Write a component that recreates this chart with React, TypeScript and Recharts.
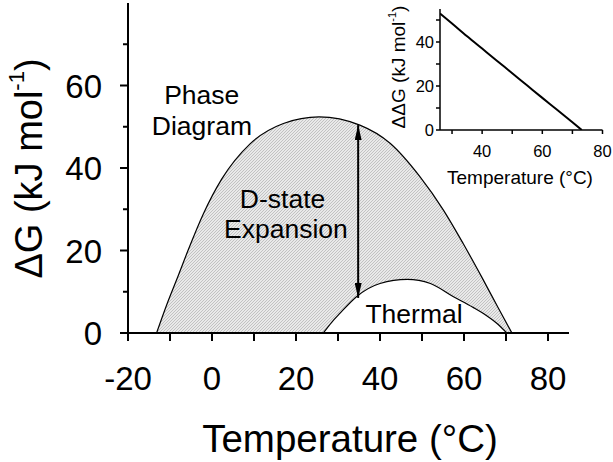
import React from 'react';
import { ComposedChart, Area, Line, XAxis, YAxis, ReferenceLine, ReferenceDot, Label } from 'recharts';

const FONT = '"Liberation Sans", Arial, Helvetica, sans-serif';

// Main chart: phase diagram (outer) curve
const phaseTemps = [-13.2, -10.8, -8, -5.6, -2.1, 2.3, 9, 17, 25.5, 35.2, 42.4, 49.5, 55.1, 59.8, 64.2, 68.2, 71.4];
const phaseDG = [0, 6.8, 14.0, 20.3, 28.8, 37.3, 45.8, 50.8, 52.4, 50.4, 46.0, 37.9, 29.8, 21.7, 13.6, 6.0, 0];

// Thermal curve
const thermalTemps = [26.5, 28.5, 30.5, 34.4, 40, 46.5, 52, 57.5, 62, 65.4, 68, 70.2];
const thermalDG = [0, 2.6, 4.8, 8.8, 12.0, 13.0, 12.0, 8.8, 6.3, 4.2, 2.2, 0];

// Inset: ΔΔG vs temperature
const insetTemps = [26, 30, 35, 40, 45, 50, 55, 60, 65, 70, 73.1];
const insetDDG = [53, 48.4, 42.6, 37.0, 31.4, 25.8, 20.2, 14.6, 9.1, 3.5, 0];

// Ticks
const mainXTicks = [-20, -10, 0, 10, 20, 30, 40, 50, 60, 70, 80];
const mainYTicks = [0, 10, 20, 30, 40, 50, 60, 70];
const insetXTicks = [30, 40, 50, 60, 70, 80];
const insetYTicks = [0, 10, 20, 30, 40, 50];

// Arrow (D-state expansion)
const arrowT = 34.8;
const arrowTop = 50.4;
const arrowBottom = 8.5;

const phaseData = phaseTemps.map((t, i) => ({ t, dg: phaseDG[i] }));
const thermalData = thermalTemps.map((t, i) => ({ t, dg: thermalDG[i] }));
const insetData = insetTemps.map((t, i) => ({ t, ddg: insetDDG[i] }));

const MainXTick = (props: any) => {
  const { x, y, payload } = props;
  const v = payload.value;
  return (
    <g>
      <line x1={x} y1={y} x2={x} y2={y + 8} stroke="#000" strokeWidth={2} />
      {v % 20 === 0 && (
        <text x={x} y={y + 57} textAnchor="middle" fontSize={33} fontFamily={FONT} fill="#000">
          {String(v)}
        </text>
      )}
    </g>
  );
};

const MainYTick = (props: any) => {
  const { x, y, payload } = props;
  const v = payload.value;
  const major = v % 20 === 0;
  return (
    <g>
      <line x1={x - (major ? 8 : 5)} y1={y} x2={x} y2={y} stroke="#000" strokeWidth={2} />
      {major && (
        <text x={x - 26} y={y + 12} textAnchor="end" fontSize={33} fontFamily={FONT} fill="#000">
          {String(v)}
        </text>
      )}
    </g>
  );
};

const InsetXTick = (props: any) => {
  const { x, y, payload } = props;
  const v = payload.value;
  return (
    <g>
      <line x1={x} y1={y} x2={x} y2={y + 4} stroke="#000" strokeWidth={1.5} />
      {v % 20 === 0 && (
        <text x={x} y={y + 27} textAnchor="middle" fontSize={16.5} fontFamily={FONT} fill="#000">
          {String(v)}
        </text>
      )}
    </g>
  );
};

const InsetYTick = (props: any) => {
  const { x, y, payload } = props;
  const v = payload.value;
  return (
    <g>
      <line x1={x - 4} y1={y} x2={x} y2={y} stroke="#000" strokeWidth={1.5} />
      {v % 20 === 0 && (
        <text x={x - 6} y={y + 6} textAnchor="end" fontSize={16.5} fontFamily={FONT} fill="#000">
          {String(v)}
        </text>
      )}
    </g>
  );
};

const annot = (text: string) => (props: any) => {
  const vb = props.viewBox || {};
  const cx = (vb.x || 0) + (vb.width || 0) / 2;
  const cy = (vb.y || 0) + (vb.height || 0) / 2;
  return (
    <text x={cx} y={cy} textAnchor="middle" fontSize={26.5} fontFamily={FONT} fill="#000">
      {text}
    </text>
  );
};

const annotations = [
  { text: 'Phase', t: -2.45, g: 55.5 },
  { text: 'Diagram', t: -2.4, g: 48.0 },
  { text: 'D-state', t: 16.8, g: 30.2 },
  { text: 'Expansion', t: 17.6, g: 22.96 },
  { text: 'Thermal', t: 48.1, g: 2.35 },
];

export default function App() {
  return (
    <div style={{ position: 'fixed', left: 0, top: 0, width: 613, height: 462, background: '#fff' }}>
      <ComposedChart width={613} height={462} margin={{ top: 3, right: 44, bottom: 0, left: 0 }}>
        <defs>
          <pattern id="hatch" width="3" height="3" patternUnits="userSpaceOnUse">
            <rect width="3" height="3" fill="#e9e9e9" />
            <path d="M-1,1 L1,-1 M0,3 L3,0 M2,4 L4,2" stroke="#b8b8b8" strokeWidth="0.8" />
          </pattern>
          <marker
            id="arrowHead"
            viewBox="0 0 15 7"
            refX="15"
            refY="3.5"
            markerWidth="15"
            markerHeight="7"
            markerUnits="userSpaceOnUse"
            orient="auto-start-reverse"
          >
            <path d="M0,0 L15,3.5 L0,7 Z" fill="#000" />
          </marker>
        </defs>
        <Area
          data={phaseData}
          dataKey="dg"
          type="monotone"
          fill="url(#hatch)"
          fillOpacity={1}
          stroke="#000"
          strokeWidth={1.2}
          dot={false}
          activeDot={false}
          isAnimationActive={false}
        />
        <Area
          data={thermalData}
          dataKey="dg"
          type="monotone"
          fill="#fff"
          fillOpacity={1}
          stroke="#000"
          strokeWidth={1.2}
          dot={false}
          activeDot={false}
          isAnimationActive={false}
        />
        <ReferenceLine
          segment={[{ x: arrowT, y: arrowTop }, { x: arrowT, y: arrowBottom }]}
          stroke="#000"
          strokeWidth={2}
          shape={(p: any) => (
            <line
              x1={p.x1}
              y1={p.y1}
              x2={p.x2}
              y2={p.y2}
              stroke="#000"
              strokeWidth={2}
              markerStart="url(#arrowHead)"
              markerEnd="url(#arrowHead)"
            />
          )}
        />
        {annotations.map((a) => (
          <ReferenceDot
            key={a.text}
            x={a.t}
            y={a.g}
            r={0}
            fill="none"
            stroke="none"
            label={<Label content={annot(a.text)} />}
          />
        ))}
        <XAxis
          dataKey="t"
          type="number"
          domain={[-20, 85]}
          ticks={mainXTicks}
          interval={0}
          allowDataOverflow
          tick={<MainXTick />}
          tickLine={false}
          tickSize={0}
          tickMargin={0}
          axisLine={{ stroke: '#000', strokeWidth: 2 }}
          height={129}
        >
          <Label
            content={() => (
              <text x={350} y={451.5} textAnchor="middle" fontSize={38.5} fontFamily={FONT} fill="#000">
                Temperature (°C)
              </text>
            )}
          />
        </XAxis>
        <YAxis
          type="number"
          domain={[0, 80]}
          ticks={mainYTicks}
          interval={0}
          allowDataOverflow
          tick={<MainYTick />}
          tickLine={false}
          tickSize={0}
          tickMargin={0}
          axisLine={{ stroke: '#000', strokeWidth: 2 }}
          width={128}
        >
          <Label
            content={() => (
              <text
                x={42}
                y={168.5}
                transform="rotate(-90 42 168.5)"
                textAnchor="middle"
                fontSize={38}
                fontFamily={FONT}
                fill="#000"
              >
                ΔG (kJ mol
                <tspan dy={-18} fontSize={22}>-1</tspan>
                <tspan dy={18}>)</tspan>
              </text>
            )}
          />
        </YAxis>
      </ComposedChart>

      <div style={{ position: 'absolute', left: 370, top: 0 }}>
        <ComposedChart width={243} height={200} margin={{ top: 9, right: 10.5, bottom: 0, left: 0 }}>
          <Line
            data={insetData}
            dataKey="ddg"
            type="monotone"
            stroke="#000"
            strokeWidth={2}
            dot={false}
            activeDot={false}
            isAnimationActive={false}
          />
          <XAxis
            dataKey="t"
            type="number"
            domain={[26, 80]}
            ticks={insetXTicks}
            interval={0}
            allowDataOverflow
            tick={<InsetXTick />}
            tickLine={false}
            tickSize={0}
            tickMargin={0}
            axisLine={{ stroke: '#000', strokeWidth: 1.5 }}
            height={70}
          >
            <Label
              content={() => (
                <text x={150} y={184} textAnchor="middle" fontSize={19} fontFamily={FONT} fill="#000">
                  Temperature (°C)
                </text>
              )}
            />
          </XAxis>
          <YAxis
            type="number"
            domain={[0, 55]}
            ticks={insetYTicks}
            interval={0}
            allowDataOverflow
            tick={<InsetYTick />}
            tickLine={false}
            tickSize={0}
            tickMargin={0}
            axisLine={{ stroke: '#000', strokeWidth: 1.5 }}
            width={70}
          >
            <Label
              content={() => (
                <text
                  x={35}
                  y={67}
                  transform="rotate(-90 35 67)"
                  textAnchor="middle"
                  fontSize={19}
                  fontFamily={FONT}
                  fill="#000"
                >
                  ΔΔG (kJ mol
                  <tspan dy={-9} fontSize={11}>-1</tspan>
                  <tspan dy={9}>)</tspan>
                </text>
              )}
            />
          </YAxis>
        </ComposedChart>
      </div>
    </div>
  );
}
